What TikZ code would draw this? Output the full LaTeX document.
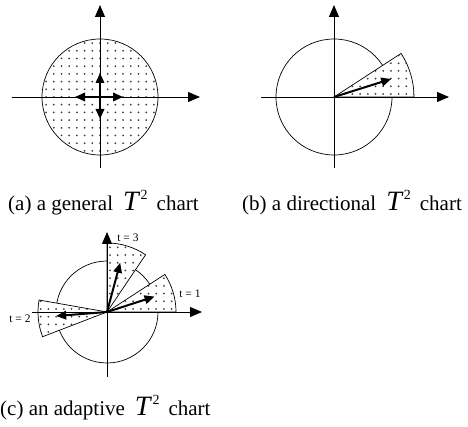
\documentclass[tikz,border=0pt]{standalone}
\usepackage{fontspec}
\setmainfont{Liberation Serif}
\usetikzlibrary{arrows.meta,calc}
\tikzset{
  axis/.style={line width=0.9pt, -{Triangle[length=12pt,width=10pt]}},
  vec/.style={line width=2pt, -{Triangle[length=10pt,width=8.5pt]}},
  dvec/.style={line width=2pt, {Triangle[length=10pt,width=8.5pt]}-{Triangle[length=10pt,width=8.5pt]}},
  rim/.style={line width=0.7pt},
  dotc/.style={fill=black!75},
  lab/.style={font=\fontsize{11.5}{11.5}\selectfont, inner sep=0pt},
  captext/.style={font=\fontsize{21}{21}\selectfont, inner sep=0pt, anchor=base west},
}
\newcommand{\Tsq}{\hspace{10pt}{\fontsize{28}{28}\selectfont\itshape T}\kern2pt\raisebox{11pt}{\fontsize{14}{14}\selectfont 2}\hspace{9pt}}
\begin{document}
\begin{tikzpicture}[x=1pt,y=1pt]
\useasboundingbox (0,0) rectangle (468,427);
% ---------- (a) ----------
\coordinate (A) at (100,330);
\coordinate (Ax0) at (12,330);
\coordinate (Ax1) at (200,330);
\coordinate (Ay0) at (100,259);
\coordinate (Ay1) at (100,422);
\begin{scope}
  \clip (A) circle (58pt);
  \foreach \i in {-8,...,8} \foreach \j in {-8,...,8}
    \fill[dotc] ($(A)+(\i*7.7,\j*7.7)$) circle (1pt);
\end{scope}
\draw[rim] (A) circle (58pt);
\draw[axis] (Ax0) -- (Ax1);
\draw[axis] (Ay0) -- (Ay1);
\coordinate (Ah0) at (75,330);
\coordinate (Ah1) at (123,330);
\coordinate (Av0) at (100,308);
\coordinate (Av1) at (100,354);
\draw[dvec] (Ah0) -- (Ah1);
\draw[dvec] (Av0) -- (Av1);
\node[captext] (capa) at (8,216) {(a) a general\Tsq chart};
% ---------- (b) ----------
\coordinate (B) at (334,330);
\coordinate (Bx0) at (261,330);
\coordinate (Bx1) at (449,330);
\coordinate (By0) at (334,259);
\coordinate (By1) at (334,422);
\draw[rim] (B) circle (58pt);
\fill[white] (B) -- ++(0:80pt) arc[start angle=0,end angle=33,radius=80pt] -- cycle;
\begin{scope}
  \clip (B) -- ++(0:80pt) arc[start angle=0,end angle=33,radius=80pt] -- cycle;
  \foreach \i in {0,...,11} \foreach \j in {0,...,7}
    \fill[dotc] ($(B)+(\i*7.7+3,\j*7.7+3)$) circle (1pt);
\end{scope}
\draw[rim] (B) -- ++(0:80pt) arc[start angle=0,end angle=33,radius=80pt] -- cycle;
\draw[axis] (Bx0) -- (Bx1);
\draw[axis] (By0) -- (By1);
\coordinate (Bv) at ($(B)+(17.5:60pt)$);
\draw[vec] (B) -- (Bv);
\node[captext] (capb) at (242,216) {(b) a directional\Tsq chart};
% ---------- (c) ----------
\coordinate (C) at (107,115);
\coordinate (Cx0) at (32,115);
\coordinate (Cx1) at (202,115);
\coordinate (Cy0) at (107,50);
\coordinate (Cy1) at (107,195);
\draw[rim] (C) circle (51pt);
\foreach \a/\b in {0/33, 56/90, 170/201}{
  \fill[white] (C) -- ++(\a:69pt) arc[start angle=\a,end angle=\b,radius=69pt] -- cycle;
  \begin{scope}
    \clip (C) -- ++(\a:69pt) arc[start angle=\a,end angle=\b,radius=69pt] -- cycle;
    \foreach \i in {-10,...,10} \foreach \j in {-10,...,10}
      \fill[dotc] ($(C)+(\i*7.7+3,\j*7.7+3)$) circle (1pt);
  \end{scope}
  \draw[rim] (C) -- ++(\a:69pt) arc[start angle=\a,end angle=\b,radius=69pt] -- cycle;
}
\draw[axis] (Cx0) -- (Cx1);
\draw[axis] (Cy0) -- (Cy1);
\coordinate (Cv1) at ($(C)+(18:50pt)$);
\coordinate (Cv2) at ($(C)+(184.5:51pt)$);
\coordinate (Cv3) at ($(C)+(75:51pt)$);
\draw[vec] (C) -- (Cv1);
\draw[vec] (C) -- (Cv2);
\draw[vec] (C) -- (Cv3);
\node[lab] (t1) at (190,133) {t = 1};
\node[lab] (t2) at (20,108) {t = 2};
\node[lab] (t3) at (128,189) {t = 3};
\node[captext] (capc) at (0,11) {(c) an adaptive\Tsq chart};
\end{tikzpicture}
\end{document}
